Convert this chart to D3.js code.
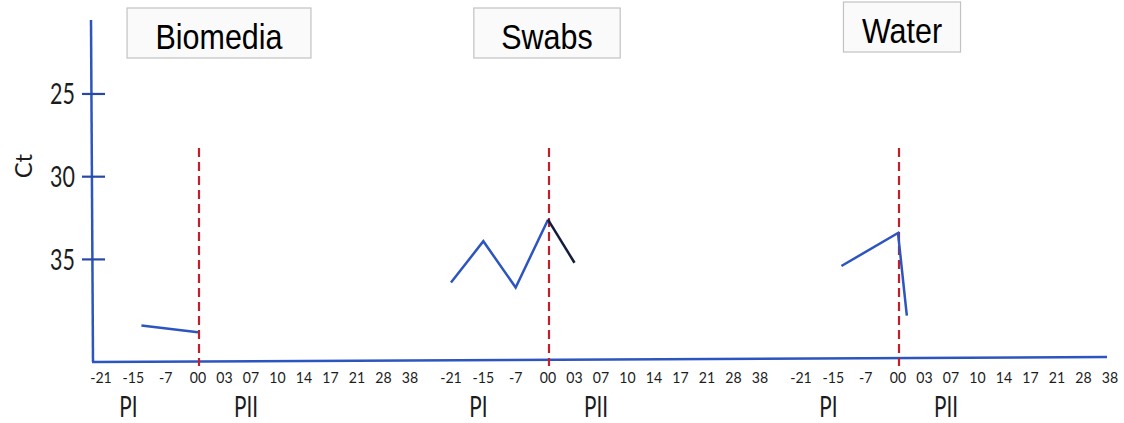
<!DOCTYPE html>
<html>
<head>
<meta charset="utf-8">
<script src="https://cdn.jsdelivr.net/npm/d3@7"></script>
<style>
body{margin:0;background:#fff;}
text{font-family:Lato,'Open Sans',sans-serif;fill:#1c1c1c;}
.title{font-family:'Liberation Sans',Arial,sans-serif;fill:#000;}
</style>
</head>
<body>
<svg id="viewer"></svg>
<script>
// panels and tick labels
var panels = ['Biomedia','Swabs','Water'];
var dayLabels = ['-21','-15','-7','00','03','07','10','14','17','21','28','38'];
var ctTicks = [25,30,35];

// Ct readings per panel (day, Ct)
var biomediaDays = [-13,0];
var biomediaCt = [39.0,39.4];
var swabsDays = [-21,-15,-7,0];
var swabsCt = [36.4,33.9,36.7,32.6];
var swabsPostDays = [0,3];
var swabsPostCt = [32.6,35.2];
var waterDays = [-13,0,1];
var waterCt = [35.4,33.4,38.4];

var series =
[
  {name:'biomedia', panel:'Biomedia', days:biomediaDays, ct:biomediaCt},
  {name:'swabs', panel:'Swabs', days:swabsDays, ct:swabsCt},
  {name:'swabsPost', panel:'Swabs', days:swabsPostDays, ct:swabsPostCt},
  {name:'water', panel:'Water', days:waterDays, ct:waterCt}
];

var lineColour = {biomedia:'#2d55c0', swabs:'#2d55c0', swabsPost:'#141c3c', water:'#2d55c0'};
var blue = '#2d55c0';

// title box nudges, the boxes are not centred on day 00
var titleLayout =
{
  Biomedia:{dx:21, top:8, pad:57},
  Swabs:{dx:-1, top:8, pad:55},
  Water:{dx:4, top:2, pad:37}
};

var W = 1124, H = 423;
var viewer = d3.select('#viewer')
  .attr('width',W)
  .attr('height',H);

var axisX = 92, axisTop = 20, axisBottom = 362;

var y = d3.scaleLinear()
  .domain([20.53,41.2])
  .range([axisTop,axisBottom]);

// panel origin = position of day 00
var panelX = d3.scalePoint()
  .domain(panels)
  .range([198,898]);

// the day axis is categorical with two uneven halves
var preLabels = dayLabels.slice(0,4);
var postLabels = dayLabels.slice(3);
var pre = d3.scalePoint().domain(preLabels).range([-97,0]);
var post = d3.scalePoint().domain(postLabels).range([0,212]);
function offset(label){ return preLabels.indexOf(label) >= 0 ? pre(label) : post(label); }

var dayNums = dayLabels.map(function(d){return +d;});
var dayX = d3.scaleLinear()
  .domain(dayNums)
  .range(dayLabels.map(offset));

// axes
viewer.append('line')
  .attr('x1',axisX-1).attr('y1',axisTop)
  .attr('x2',axisX+1).attr('y2',axisBottom)
  .style('stroke',blue).style('stroke-width',2.5);

viewer.append('line')
  .attr('x1',axisX).attr('y1',axisBottom)
  .attr('x2',1107).attr('y2',357)
  .style('stroke',blue).style('stroke-width',2.5);

var yTicks = viewer.selectAll('.ytick')
  .data(ctTicks)
  .enter().append('g')
    .attr('class','ytick')
    .attr('transform',function(d){return 'translate(0,'+y(d)+')';});

yTicks.append('line')
  .attr('x1',axisX-10).attr('x2',axisX+13)
  .style('stroke','#2848a8').style('stroke-width',2.2);

yTicks.append('text')
  .attr('text-anchor','end')
  .attr('transform','translate(75,10.5) scale(0.74,1)')
  .style('font-size','29px')
  .text(function(d){return d;});

viewer.append('text')
  .attr('transform','translate(32,166) rotate(-90)')
  .attr('text-anchor','middle')
  .style('font-size','24px')
  .text('Ct');

// panels
var panelViews = viewer.selectAll('.panel')
  .data(panels)
  .enter().append('g')
    .attr('class','panel')
    .attr('transform',function(d){return 'translate('+panelX(d)+',0)';});

panelViews.each(function(p)
{
  var g = d3.select(this);
  var lay = titleLayout[p];

  // title box
  var box = g.append('rect');
  var title = g.append('text')
    .attr('class','title')
    .attr('text-anchor','middle')
    .attr('transform','translate('+lay.dx+','+(lay.top+41)+') scale(0.87,1)')
    .style('font-size','35px')
    .text(p);
  var tw = title.node().getComputedTextLength()*0.87 + lay.pad;
  box
    .attr('x',lay.dx-tw/2).attr('y',lay.top)
    .attr('width',tw).attr('height',50)
    .style('fill','#fafafa').style('stroke','#c2c2c2').style('stroke-width',1.2);

  // day labels
  g.selectAll('.daylabel')
    .data(dayLabels)
    .enter().append('text')
      .attr('class','daylabel')
      .attr('text-anchor','middle')
      .attr('transform',function(d){return 'translate('+offset(d)+',383) scale(0.88,1)';})
      .style('font-size','16px')
      .text(function(d){return d;});

  g.append('text')
    .attr('text-anchor','middle')
    .attr('transform','translate('+(offset('-15')-5)+',417) scale(0.74,1)')
    .style('font-size','28px')
    .text('PI');

  g.append('text')
    .attr('text-anchor','middle')
    .attr('transform','translate('+(offset('07')-5)+',417) scale(0.74,1)')
    .style('font-size','28px')
    .text('PII');

  // phase split at day 00
  g.append('line')
    .attr('x1',dayX(0)+1).attr('x2',dayX(0)+1)
    .attr('y1',148).attr('y2',366)
    .style('stroke','#c01f2c').style('stroke-width',2.2)
    .style('stroke-dasharray','9,5');
});

// data lines
var line = d3.line()
  .x(function(d){return d[0];})
  .y(function(d){return d[1];});

viewer.selectAll('.series')
  .data(series)
  .enter().append('path')
    .attr('class','series')
    .attr('d',function(s)
    {
      var pts = s.days.map(function(day,i){return [panelX(s.panel)+dayX(day), y(s.ct[i])];});
      return line(pts);
    })
    .style('fill','none')
    .style('stroke',function(s){return lineColour[s.name];})
    .style('stroke-width',2.5);
</script>
</body>
</html>
